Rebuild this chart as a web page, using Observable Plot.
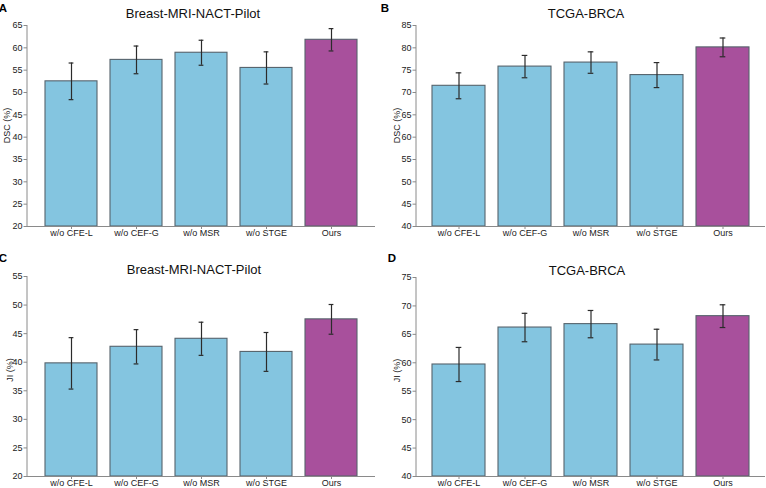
<!DOCTYPE html>
<html>
<head>
<meta charset="utf-8">
<script src="https://cdn.jsdelivr.net/npm/d3@7"></script>
<script src="https://cdn.jsdelivr.net/npm/@observablehq/plot@0.6"></script>
<style>
  html, body { margin: 0; padding: 0; background: #fff; }
  #wrap { position: relative; width: 766px; height: 488px; overflow: hidden; font-family: "Liberation Sans", Arial, sans-serif; }
  #wrap svg { position: absolute; overflow: visible; }
</style>
</head>
<body>
<div id="wrap"></div>
<script>
// ---- data ----
const categories = ["w/o CFE-L", "w/o CEF-G", "w/o MSR", "w/o STGE", "Ours"];
const dscPilot    = [52.5, 57.3, 58.9, 55.5, 61.8];
const dscPilotErr = [4.1, 3.1, 2.8, 3.6, 2.5];
const dscTcga     = [71.5, 75.8, 76.7, 73.9, 80.1];
const dscTcgaErr  = [2.9, 2.5, 2.4, 2.8, 2.1];
const jiPilot     = [39.8, 42.7, 44.1, 41.8, 47.5];
const jiPilotErr  = [4.5, 3.0, 2.9, 3.4, 2.6];
const jiTcga      = [59.7, 66.2, 66.8, 63.2, 68.2];
const jiTcgaErr   = [3.0, 2.5, 2.4, 2.7, 2.0];
const panelLetters = ["A", "B", "C", "D"];
const panelTitles = ["Breast-MRI-NACT-Pilot", "TCGA-BRCA", "Breast-MRI-NACT-Pilot", "TCGA-BRCA"];
const yLabels = ["DSC (%)", "DSC (%)", "JI (%)", "JI (%)"];
const yDomains = [[20, 65], [40, 85], [20, 55], [40, 75]];

// ---- layout / style ----
const BLUE = "#84c5e0", PURPLE = "#a8509c";
const panels = [
  {vals: dscPilot, errs: dscPilotErr, left: 0,   top: 0,   ml: 27, mr: 8, mt: 25, mb: 18, tx: 193, ty: 18, lx: 3, ly: 11.5, yl: 7, ylc: 0},
  {vals: dscTcga,  errs: dscTcgaErr,  left: 383, top: 0,   ml: 33, mr: 1, mt: 25, mb: 18, tx: 203, ty: 18, lx: 2, ly: 11.5, yl: 14, ylc: 0},
  {vals: jiPilot,  errs: jiPilotErr,  left: 0,   top: 244, ml: 27, mr: 8, mt: 32, mb: 12, tx: 194, ty: 29.5, lx: 3, ly: 18, yl: 9.5, ylc: -6},
  {vals: jiTcga,   errs: jiTcgaErr,   left: 383, top: 244, ml: 33, mr: 1, mt: 33, mb: 12, tx: 204, ty: 30.5, lx: 9, ly: 17.5, yl: 14, ylc: -6}
];

const wrap = document.getElementById("wrap");

panels.forEach((p, i) => {
  const [y0, y1] = yDomains[i];
  const data = categories.map((c, k) => ({cat: c, v: p.vals[k], e: p.errs[k], ours: c === "Ours"}));
  const W = 383, H = 244;
  const plotW = W - p.ml - p.mr;
  const step = plotW / (5 - 0.2 + 2 * 0.24);
  const bw = 0.8 * step;
  const capInset = (bw - 5.5) / 2;
  const ticks = d3.range(y0, y1 + 0.001, 5);

  const chart = Plot.plot({
    width: W, height: H,
    marginLeft: p.ml, marginRight: p.mr, marginTop: p.mt, marginBottom: p.mb,
    style: {fontFamily: "'Liberation Sans', Arial, sans-serif", fontSize: "9px", color: "#222", background: "transparent"},
    x: {type: "band", domain: categories, paddingInner: 0.2, paddingOuter: 0.24, label: null},
    y: {domain: [y0, y1], label: null},
    marks: [
      Plot.barY(data, {x: "cat", y1: y0, y2: "v", fill: d => d.ours ? PURPLE : BLUE, stroke: "#56636c", strokeWidth: 1.1}),
      Plot.ruleX(data, {x: "cat", y1: d => d.v - d.e, y2: d => d.v + d.e, stroke: "#2b2b2b", strokeWidth: 1.2}),
      Plot.tickY(data, {x: "cat", y: d => d.v + d.e, stroke: "#2b2b2b", strokeWidth: 1.2, insetLeft: capInset, insetRight: capInset}),
      Plot.tickY(data, {x: "cat", y: d => d.v - d.e, stroke: "#2b2b2b", strokeWidth: 1.2, insetLeft: capInset, insetRight: capInset}),
      Plot.ruleY([y0], {stroke: "#8a8a8a", strokeWidth: 1}),
      Plot.axisY({ticks, tickSize: 3.5, tickPadding: 1.5, stroke: "#8a8a8a", label: null, fill: "#222"}),
      Plot.axisX({tickSize: 3, tickPadding: 0, stroke: "#8a8a8a", label: null, fill: "#222"})
    ]
  });
  chart.style.left = p.left + "px";
  chart.style.top = p.top + "px";
  wrap.appendChild(chart);

  const svg = d3.select(chart);
  const ys = chart.scale("y");
  // left spine
  svg.append("line")
    .attr("x1", p.ml).attr("x2", p.ml)
    .attr("y1", ys.apply(y0)).attr("y2", ys.apply(y1))
    .attr("stroke", "#8a8a8a").attr("stroke-width", 1);
  // title
  svg.append("text").attr("x", p.tx).attr("y", p.ty)
    .attr("text-anchor", "middle").attr("font-size", "13px").attr("fill", "#111")
    .text(panelTitles[i]);
  // panel letter
  svg.append("text").attr("x", p.lx).attr("y", p.ly)
    .attr("font-size", "11.5px").attr("font-weight", "bold").attr("fill", "#000")
    .text(panelLetters[i]);
  // y label
  const cy = (ys.apply(y0) + ys.apply(y1)) / 2 + p.ylc;
  svg.append("text")
    .attr("transform", `translate(${p.yl},${cy}) rotate(-90)`)
    .attr("text-anchor", "middle").attr("dy", "0.35em")
    .attr("font-size", "9px").attr("fill", "#222")
    .text(yLabels[i]);
});
</script>
</body>
</html>
